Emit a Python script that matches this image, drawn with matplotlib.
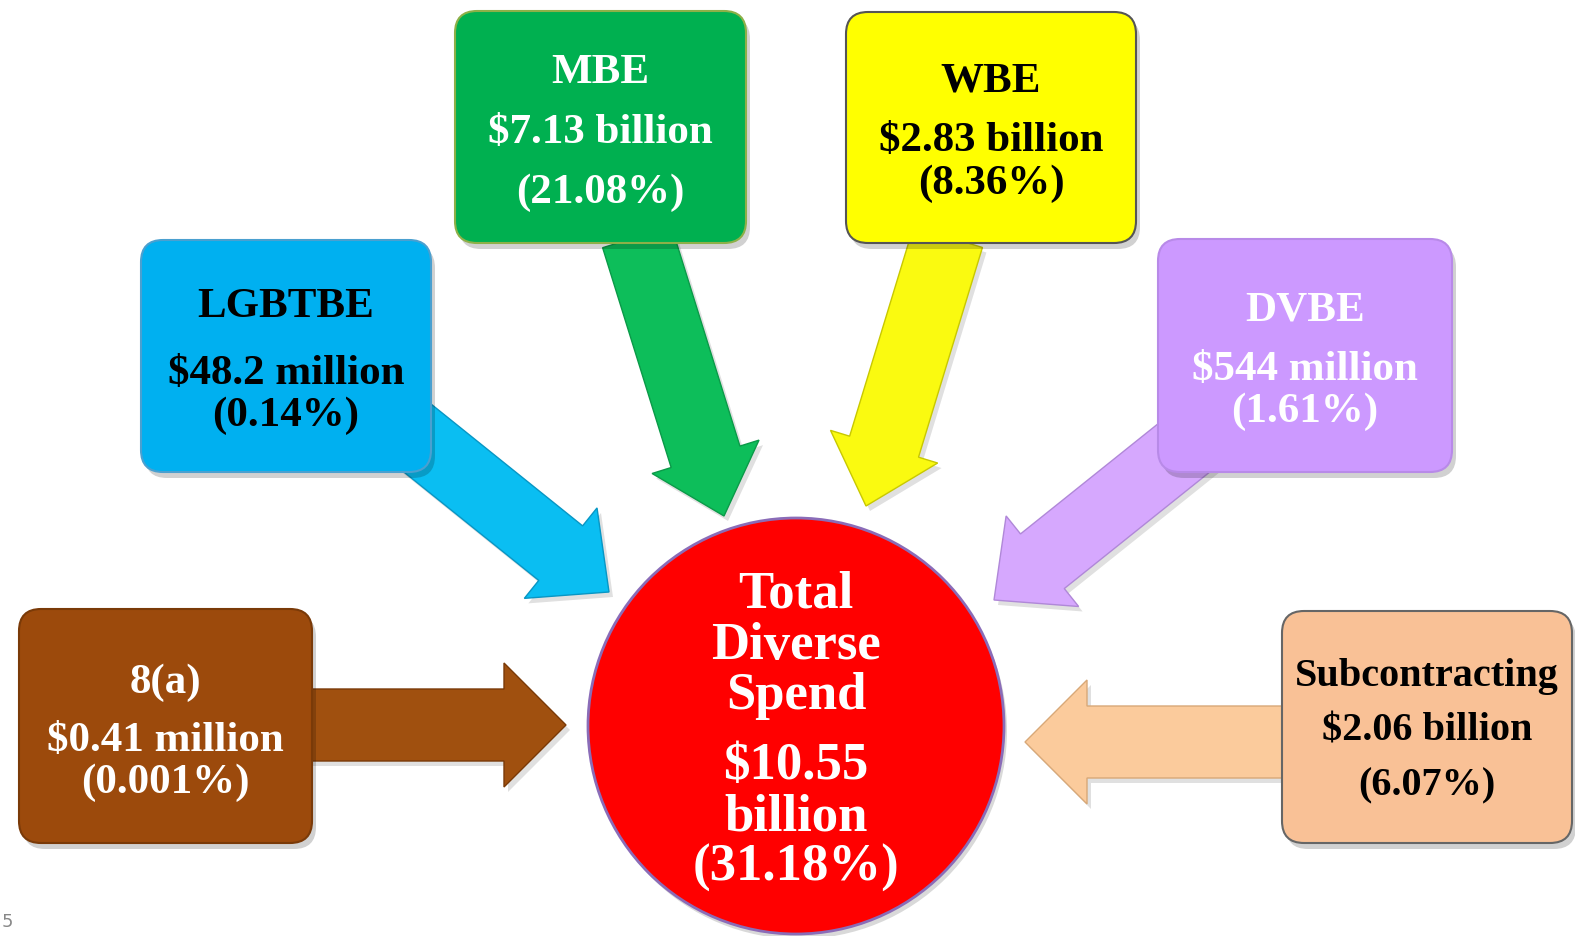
import matplotlib
matplotlib.use("Agg")
import matplotlib.pyplot as plt
from matplotlib.patches import FancyBboxPatch, FancyArrow, Circle

# Categories and values
names = ["MBE", "WBE", "LGBTBE", "DVBE", "8(a)", "Subcontracting"]
amounts = ["$7.13 billion", "$2.83 billion", "$48.2 million", "$544 million",
           "$0.41 million", "$2.06 billion"]
shares = ["(21.08%)", "(8.36%)", "(0.14%)", "(1.61%)", "(0.001%)", "(6.07%)"]
total_lines = ["Total", "Diverse", "Spend", "$10.55", "billion", "(31.18%)"]

# Styles
box_colors = ["#00B050", "#FFFF00", "#00B0F0", "#CC99FF", "#9C4A0C", "#F9C196"]
arrow_colors = ["#0DBE5A", "#FAFA10", "#0ABEF2", "#D6A8FE", "#A0500F", "#FBCB9C"]
arrow_edges = ["#0A9A48", "#C8C800", "#0896C4", "#B088D8", "#7A3A08", "#D8A878"]
edge_colors = ["#8DB048", "#555555", "#4AA0D0", "#B88AE8", "#7A3A08", "#666666"]
text_colors = ["white", "black", "black", "white", "white", "black"]
text_sizes = [31, 31, 31, 31, 31, 29]

# Layout in pixel space: box (x0, y0, x1, y1), line centres, arrow tail/tip
boxes = [(455, 12, 746, 244), (846, 13, 1136, 244), (141, 241, 431, 473),
         (1158, 240, 1452, 473), (19, 610, 312, 844), (1282, 612, 1572, 844)]
line_y = [(73, 133, 193), (81, 141, 184), (307, 374, 416),
          (311, 370, 412), (683, 741, 783), (677, 731, 786)]
arrows = [((637, 238), (724, 517)), ((948, 238), (866, 507)),
          ((400, 425), (609, 593)), ((1195, 440), (994, 601)),
          ((300, 726), (566, 726)), ((1290, 743), (1025, 743))]
shaft_w = [72, 72, 70, 70, 72, 72]
head_w = [112, 112, 116, 116, 124, 124]
head_l = [62, 62, 62, 62, 62, 62]

circle_c = (796, 727)
circle_r = 208
total_y = [595, 646, 696, 766, 818, 868]

W, H = 1575, 937
fig = plt.figure(figsize=(W / 100, H / 100), dpi=100)
ax = fig.add_axes([0, 0, 1, 1])
ax.set_xlim(0, W)
ax.set_ylim(H, 0)
ax.set_aspect("equal")
ax.axis("off")

font = dict(family=["Liberation Serif", "DejaVu Serif"], fontweight="bold")

# arrows behind the boxes
for i, ((x0, y0), (x1, y1)) in enumerate(arrows):
    sh = FancyArrow(x0 + 4, y0 + 5, x1 - x0, y1 - y0, width=shaft_w[i],
                    head_width=head_w[i], head_length=head_l[i],
                    length_includes_head=True, color="#000000", alpha=0.12,
                    lw=0, zorder=1)
    ax.add_patch(sh)
    ar = FancyArrow(x0, y0, x1 - x0, y1 - y0, width=shaft_w[i],
                    head_width=head_w[i], head_length=head_l[i],
                    length_includes_head=True, facecolor=arrow_colors[i],
                    edgecolor=arrow_edges[i], lw=1, zorder=2)
    ax.add_patch(ar)

# boxes
for i, (x0, y0, x1, y1) in enumerate(boxes):
    shadow = FancyBboxPatch((x0 + 4, y0 + 6), x1 - x0, y1 - y0,
                            boxstyle="round,pad=0,rounding_size=22",
                            facecolor="black", alpha=0.18, lw=0, zorder=3)
    ax.add_patch(shadow)
    box = FancyBboxPatch((x0, y0), x1 - x0, y1 - y0,
                         boxstyle="round,pad=0,rounding_size=22",
                         facecolor=box_colors[i], edgecolor=edge_colors[i],
                         lw=1.5, zorder=4)
    ax.add_patch(box)
    cx = (x0 + x1) / 2
    for txt, y in zip([names[i], amounts[i], shares[i]], line_y[i]):
        ax.text(cx, y, txt, ha="center", va="center", fontsize=text_sizes[i],
                color=text_colors[i], zorder=6, **font)

# central circle
ax.add_patch(Circle((circle_c[0] + 3, circle_c[1] + 5), circle_r,
                    facecolor="black", alpha=0.15, lw=0, zorder=3))
ax.add_patch(Circle(circle_c, circle_r, facecolor="#FF0000",
                    edgecolor="#8A6CB8", lw=2, zorder=4))
for txt, y in zip(total_lines, total_y):
    ax.text(circle_c[0], y, txt, ha="center", va="center", fontsize=38,
            color="white", zorder=6, **font)

# page number at the bottom-left edge
ax.text(2, 922, "5", ha="left", va="center", fontsize=13, color="#888888")

fig.savefig("out.png", dpi=100)
